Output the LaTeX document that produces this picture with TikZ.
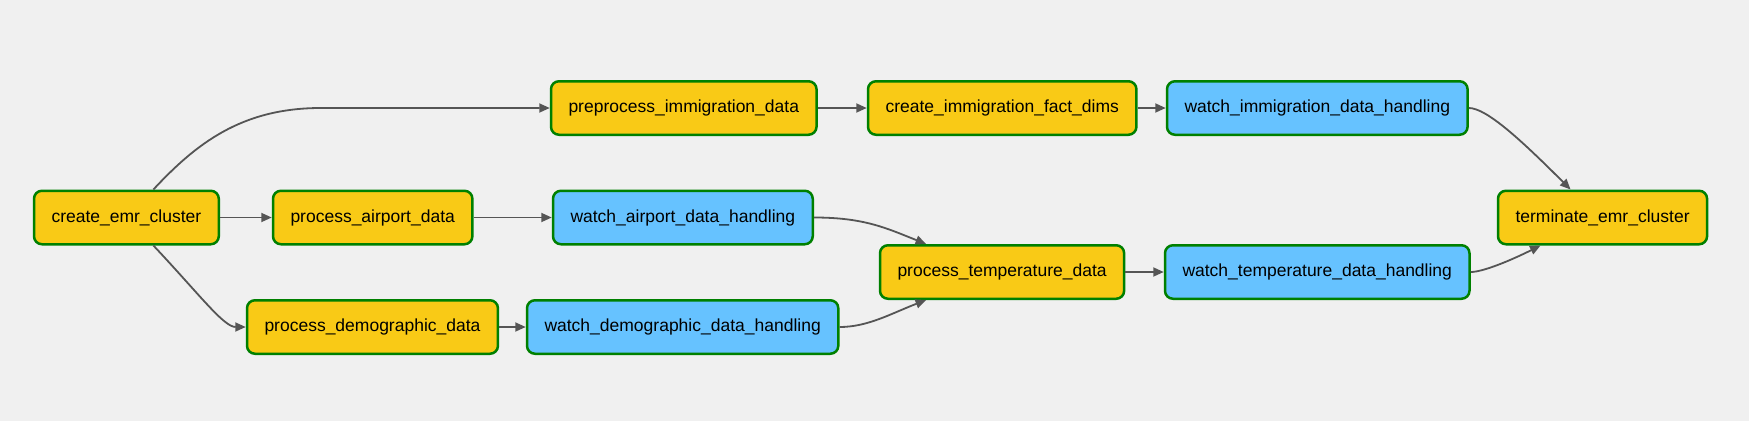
\documentclass[tikz,border=0pt]{standalone}
\usepackage{fontspec}
\setmainfont{Liberation Sans}
\usepackage{tikz}
\usetikzlibrary{arrows.meta,positioning}
\definecolor{bgc}{HTML}{F0F0F0}
\definecolor{task}{HTML}{F9CA16}
\definecolor{sensor}{HTML}{66C2FF}
\definecolor{rim}{HTML}{008000}
\definecolor{wire}{HTML}{555555}
\begin{document}
\begin{tikzpicture}[x=1pt,y=-1pt,
  box/.style={draw=rim,line width=2.5pt,rounded corners=8pt,minimum height=53.5pt,
    inner xsep=17.5pt,anchor=west,font=\fontsize{17.5}{21}\selectfont},
  op/.style={box,fill=task},
  watch/.style={box,fill=sensor},
  edge/.style={draw=wire,line width=1.8pt,-{Triangle[length=10.5pt,width=9pt]}}]
\fill[bgc] (0,0) rectangle (1749,421);
\useasboundingbox (0,0) rectangle (1749,421);
\node[op] (emr) at (32.75,217.5) {create\_emr\_cluster};
\node[op] (air) at (271.75,217.5) {process\_airport\_data};
\node[op] (dem) at (245.75,327) {process\_demographic\_data};
\node[op] (prep) at (549.75,108) {preprocess\_immigration\_data};
\node[watch] (wair) at (551.75,217.5) {watch\_airport\_data\_handling};
\node[watch] (wdem) at (525.75,327) {watch\_demographic\_data\_handling};
\node[op] (fact) at (866.75,108) {create\_immigration\_fact\_dims};
\node[op] (temp) at (878.75,272) {process\_temperature\_data};
\node[watch] (wimm) at (1165.75,108) {watch\_immigration\_data\_handling};
\node[watch] (wtemp) at (1163.75,272) {watch\_temperature\_data\_handling};
\node[op] (term) at (1496.75,217.5) {terminate\_emr\_cluster};
% straight links
\draw[edge] (emr) -- (air);
\draw[edge] (air) -- (wair);
\draw[edge] (dem) -- (wdem);
\draw[edge] (prep) -- (fact);
\draw[edge] (fact) -- (wimm);
\draw[edge] (temp) -- (wtemp);
% curved links
\draw[edge] ([xshift=27pt]emr.north) .. controls +(42,-45) and +(-80,0) .. ([xshift=-229pt]prep.west) -- (prep.west);
\draw[edge] ([xshift=27pt]emr.south) .. controls +(47,50) and +(-22,0) .. (dem.west);
\draw[edge] (wair.east) .. controls +(50,0) and +(-40,-16) .. ([xshift=-76pt]temp.north);
\draw[edge] (wdem.east) .. controls +(28,0) and +(-36,14) .. ([xshift=-76pt]temp.south);
\draw[edge] (wimm.east) .. controls +(18,0) and +(-48,-48) .. ([xshift=-32pt]term.north);
\draw[edge] (wtemp.east) .. controls +(12,0) and +(-30,15) .. ([xshift=-62pt]term.south);
\end{tikzpicture}
\end{document}
